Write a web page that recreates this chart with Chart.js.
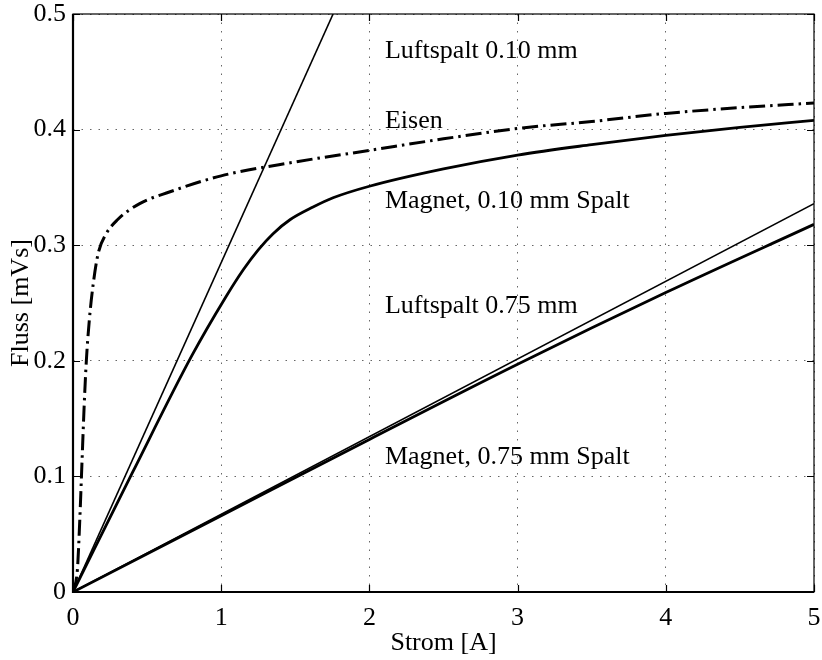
<!DOCTYPE html>
<html>
<head>
<meta charset="utf-8">
<script src="https://cdn.jsdelivr.net/npm/chart.js@4/dist/chart.umd.min.js"></script>
<style>
  html, body { margin: 0; padding: 0; background: #fff; }
  #wrap { width: 822px; height: 660px; }
</style>
</head>
<body>
<div id="wrap"><canvas id="flux"></canvas></div>
<script>
// Strom [A] / Fluss [mVs]
const luft010X = [0, 1.755];
const luft010Y = [0, 0.5];

const eisenX = [0, 0.03, 0.045, 0.06, 0.075, 0.09, 0.11, 0.135, 0.17, 0.22, 0.3, 0.45, 0.65, 1.0, 1.5, 2.0, 2.5, 3.0, 3.5, 4.0, 4.5, 5.0];
const eisenY = [0, 0.02, 0.06, 0.11, 0.16, 0.2, 0.235, 0.265, 0.293, 0.309, 0.322, 0.336, 0.346, 0.36, 0.372, 0.382, 0.392, 0.401, 0.407, 0.414, 0.419, 0.423];

const mag010X = [0, 0.4, 0.8, 1.03, 1.15, 1.25, 1.35, 1.464, 1.62, 1.755, 2.0, 2.5, 3.0, 3.5, 4.0, 4.5, 5.0];
const mag010Y = [0, 0.103, 0.204, 0.255, 0.279, 0.296, 0.31, 0.322, 0.333, 0.341, 0.351, 0.366, 0.378, 0.387, 0.395, 0.402, 0.408];

const luft075X = [0, 5];
const luft075Y = [0, 0.336];

const mag075X = [0, 1, 2, 3, 4, 5];
const mag075Y = [0, 0.066, 0.132, 0.197, 0.259, 0.318];

const xTicks = ['0', '1', '2', '3', '4', '5'];
const yTicks = ['0', '0.1', '0.2', '0.3', '0.4', '0.5'];

const noteTexts = ['Luftspalt 0.10 mm', 'Eisen', 'Magnet, 0.10 mm Spalt', 'Luftspalt 0.75 mm', 'Magnet, 0.75 mm Spalt'];
const noteX = [2.105, 2.105, 2.105, 2.105, 2.105];
const noteY = [0.4617, 0.4011, 0.3319, 0.2411, 0.1105];

function pts(xs, ys) {
    return xs.map((x, i) => ({x: x, y: ys[i]}));
}

const serif = '"Liberation Serif", "DejaVu Serif", serif';

// box round the plot, inward ticks on all four sides, text notes
const boxPlugin = {
    id: 'boxPlugin',
    afterDraw(chart) {
        const ctx = chart.ctx;
        const a = chart.chartArea;
        const xs = chart.scales.x, ys = chart.scales.y;
        ctx.save();
        ctx.strokeStyle = '#000';
        ctx.lineWidth = 1.2;
        ctx.beginPath();
        for (let i = 0; i < xTicks.length; i++) {
            const px = Math.round(xs.getPixelForValue(i)) + 0.5;
            ctx.moveTo(px, a.bottom); ctx.lineTo(px, a.bottom - 7);
            ctx.moveTo(px, a.top); ctx.lineTo(px, a.top + 7);
        }
        for (let i = 0; i < yTicks.length; i++) {
            const py = Math.round(ys.getPixelForValue(i / 10)) + 0.5;
            ctx.moveTo(a.left, py); ctx.lineTo(a.left + 7, py);
            ctx.moveTo(a.right, py); ctx.lineTo(a.right - 7, py);
        }
        ctx.stroke();

        ctx.lineWidth = 1.2;
        ctx.strokeRect(a.left, a.top, a.right - a.left, a.bottom - a.top);
        // left and bottom axis a bit heavier
        ctx.lineWidth = 2.2;
        ctx.beginPath();
        ctx.moveTo(a.left, a.top); ctx.lineTo(a.left, a.bottom); ctx.lineTo(a.right, a.bottom);
        ctx.stroke();

        ctx.fillStyle = '#000';
        ctx.font = '26px ' + serif;
        ctx.textAlign = 'left';
        ctx.textBaseline = 'alphabetic';
        noteTexts.forEach((t, i) => {
            ctx.fillText(t, xs.getPixelForValue(noteX[i]), ys.getPixelForValue(noteY[i]));
        });
        ctx.restore();
    }
};

const ctx = document.getElementById('flux');
new Chart(ctx, {
    type: 'line',
    data: {
        datasets: [
            {label: 'Luftspalt 0.10 mm', data: pts(luft010X, luft010Y), borderColor: '#000', borderWidth: 1.6},
            {label: 'Eisen', data: pts(eisenX, eisenY), borderColor: '#000', borderWidth: 3,
                borderDash: [16, 5, 2.5, 5], cubicInterpolationMode: 'monotone'},
            {label: 'Magnet, 0.10 mm Spalt', data: pts(mag010X, mag010Y), borderColor: '#000', borderWidth: 2.8,
                cubicInterpolationMode: 'monotone'},
            {label: 'Luftspalt 0.75 mm', data: pts(luft075X, luft075Y), borderColor: '#000', borderWidth: 1.6},
            {label: 'Magnet, 0.75 mm Spalt', data: pts(mag075X, mag075Y), borderColor: '#000', borderWidth: 2.8,
                cubicInterpolationMode: 'monotone'}
        ]
    },
    options: {
        responsive: true,
        maintainAspectRatio: false,
        animation: false,
        layout: {padding: {top: 14, right: 8, left: 0, bottom: 0}},
        elements: {point: {radius: 0}, line: {borderCapStyle: 'butt'}},
        plugins: {legend: {display: false}, tooltip: {enabled: false}},
        scales: {
            x: {
                type: 'linear', min: 0, max: 5,
                afterFit: (s) => { s.height = 68; s.paddingLeft = 0; s.paddingRight = 0; },
                grid: {color: 'rgba(0,0,0,0.6)', lineWidth: 1, drawTicks: false},
                border: {display: false, dash: [1.5, 7]},
                ticks: {stepSize: 1, padding: 11, color: '#000',
                    font: {family: serif, size: 26, lineHeight: 1.2},
                    callback: (v) => xTicks[Math.round(v)]},
                title: {display: true, text: 'Strom [A]', color: '#000',
                    font: {family: serif, size: 26, lineHeight: 1.2}, padding: {top: 0, bottom: 1}}
            },
            y: {
                type: 'linear', min: 0, max: 0.5,
                afterFit: (s) => { s.width = 73; s.paddingTop = 0; s.paddingBottom = 0; },
                grid: {color: 'rgba(0,0,0,0.6)', lineWidth: 1, drawTicks: false},
                border: {display: false, dash: [1.5, 7]},
                ticks: {stepSize: 0.1, padding: 7, color: '#000',
                    font: {family: serif, size: 26, lineHeight: 1.2},
                    callback: (v) => yTicks[Math.round(v * 10)]},
                title: {display: true, text: 'Fluss [mVs]', color: '#000',
                    font: {family: serif, size: 26, lineHeight: 1.2}, padding: {top: 6, bottom: 0}}
            }
        }
    },
    plugins: [boxPlugin]
});
</script>
</body>
</html>
